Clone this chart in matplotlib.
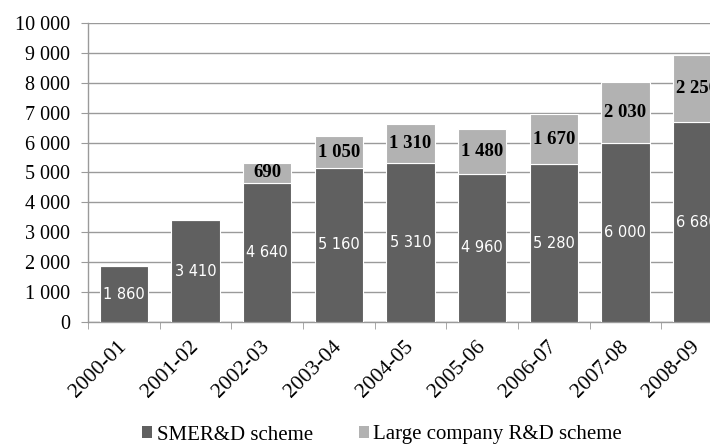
import matplotlib
matplotlib.use("Agg")
import matplotlib.pyplot as plt
import matplotlib.transforms as mtransforms
import numpy as np
from matplotlib.patches import Patch

categories = ["2000-01", "2001-02", "2002-03", "2003-04", "2004-05",
              "2005-06", "2006-07", "2007-08", "2008-09"]
sme = [1860, 3410, 4640, 5160, 5310, 4960, 5280, 6000, 6680]
large = [0, 0, 690, 1050, 1310, 1480, 1670, 2030, 2250]
series_names = ["SMER&D scheme", "Large company R&D scheme"]
yticks = [0, 1000, 2000, 3000, 4000, 5000, 6000, 7000, 8000, 9000, 10000]

DARK = "#606060"
LIGHT = "#b2b2b2"
GRID = "#9a9a9a"
SERIF = ["Liberation Serif", "DejaVu Serif"]

def fmt(v):
    return f"{v:,}".replace(",", " ")

fig = plt.figure(figsize=(7.10, 4.46), dpi=100)
W, H = 710, 446
left, right, top, bottom = 88, 733, 23, 322
ax = fig.add_axes([left / W, 1 - bottom / H, (right - left) / W, (bottom - top) / H])

x = np.arange(len(categories))
bw = 0.67
ax.bar(x, sme, width=bw, color=DARK, edgecolor="white", linewidth=0.8, zorder=3)
ax.bar(x, large, width=bw, bottom=sme, color=LIGHT, edgecolor="white", linewidth=0.8, zorder=3)

for xi, s, l in zip(x, sme, large):
    ax.text(xi, s / 2, fmt(s), ha="center", va="center", color="white",
            fontsize=10.5, family="DejaVu Sans", zorder=4)
    if l > 0:
        ax.text(xi, s + l / 2, fmt(l), ha="center", va="center", color="black",
                fontsize=13.5, fontweight="bold", family=SERIF, zorder=4)

ax.set_xlim(-0.5, len(categories) - 0.5)
ax.set_ylim(0, 10000)
ax.set_yticks(yticks)
ax.set_yticklabels([fmt(v) for v in yticks], family=SERIF, fontsize=14.5)
ax.yaxis.grid(True, color=GRID, linewidth=1.0, zorder=0)
ax.set_axisbelow(True)

ax.set_xticks(x)
ax.set_xticklabels(categories, family=SERIF, fontsize=15.5, rotation=45,
                   ha="right", va="center", rotation_mode="anchor")
offset = mtransforms.ScaledTranslation(6 / 100, 0, fig.dpi_scale_trans)
for lab in ax.get_xticklabels():
    lab.set_transform(lab.get_transform() + offset)
ax.set_xticks(np.arange(len(categories) + 1) - 0.5, minor=True)
ax.tick_params(axis="x", which="major", length=0, pad=16)
ax.tick_params(axis="x", which="minor", length=5, color=GRID, direction="out")
ax.tick_params(axis="y", length=5, color=GRID, direction="out", pad=8)

for sp in ["top", "right"]:
    ax.spines[sp].set_visible(False)
for sp in ["left", "bottom"]:
    ax.spines[sp].set_color(GRID)
    ax.spines[sp].set_linewidth(1.0)

handles = [Patch(facecolor=DARK, edgecolor="none"), Patch(facecolor=LIGHT, edgecolor="none")]
fig.legend(handles, series_names, loc="center", bbox_to_anchor=(382 / W, 1 - 435 / H),
           ncol=2, frameon=False, handlelength=0.5, handleheight=0.5,
           handletextpad=0.2, columnspacing=2.2,
           prop={"family": SERIF, "size": 15})

fig.savefig("out.png", dpi=100)
